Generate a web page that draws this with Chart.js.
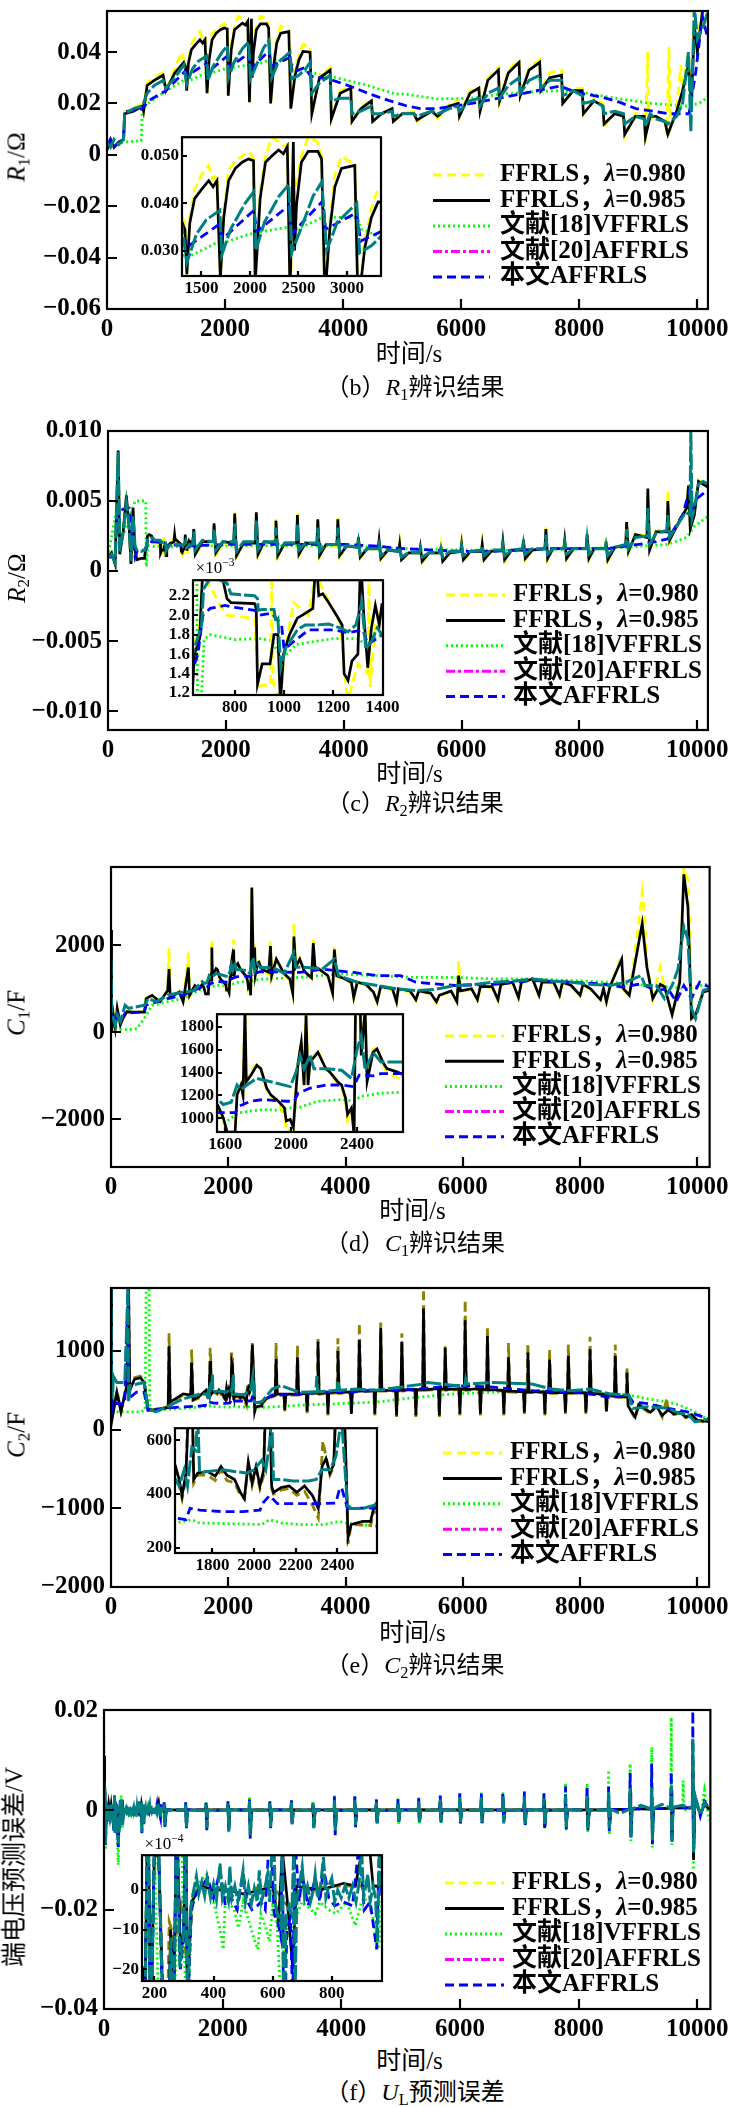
<!DOCTYPE html>
<html>
<head>
<meta charset="utf-8">
<script src="https://cdn.jsdelivr.net/npm/chart.js@4.4.0/dist/chart.umd.min.js"></script>
<style>
  body { margin: 0; background: #fff; }
  #page { position: relative; width: 735px; height: 2107px; overflow: hidden; background: #fff; }
  #page canvas { position: absolute; }
  .txt { position: absolute; white-space: nowrap; color: #000; line-height: 1;
         font-family: "Liberation Serif", "Noto Sans CJK SC", serif; transform: translate(-50%, -50%); }
  .ytl { transform: translate(-50%, -50%) rotate(-90deg); }
  .txt sub { font-size: 0.68em; vertical-align: -0.28em; line-height: 0; }
  .txt sup { font-size: 0.68em; vertical-align: 0.55em; line-height: 0; }
</style>
</head>
<body>
<div id="page"></div>
<script>
// ---------- ticks / labels ----------
const xTicksMain = [0, 2000, 4000, 6000, 8000, 10000];
const legendLabels = ['FFRLS，λ=0.980', 'FFRLS，λ=0.985', '文献[18]VFFRLS', '文献[20]AFFRLS', '本文AFFRLS'];

const r1YTicks = [-0.06, -0.04, -0.02, 0, 0.02, 0.04];
const r1InsetXTicks = [1500, 2000, 2500, 3000];
const r1InsetYTicks = [0.030, 0.040, 0.050];
const r2YTicks = [-0.010, -0.005, 0, 0.005, 0.010];
const r2InsetXTicks = [800, 1000, 1200, 1400];
const r2InsetYTicks = [0.0012, 0.0014, 0.0016, 0.0018, 0.0020, 0.0022];
const c1YTicks = [-2000, 0, 2000];
const c1InsetXTicks = [1600, 2000, 2400];
const c1InsetYTicks = [1000, 1200, 1400, 1600, 1800];
const c2YTicks = [-2000, -1000, 0, 1000];
const c2InsetXTicks = [1800, 2000, 2200, 2400];
const c2InsetYTicks = [200, 400, 600];
const ulYTicks = [-0.04, -0.02, 0, 0.02];
const ulInsetXTicks = [200, 400, 600, 800];
const ulInsetYTicks = [-0.002, -0.001, 0];

// ---------- (b) R1 ----------
const r1Yellow = [[0,0.002],[60,0.006],[120,0.003],[200,0.005],[280,0.006],[300,0.017],[450,0.018],[600,0.020],[620,0.017],[680,0.028],[800,0.030],[950,0.032],[1000,0.025],[1150,0.034],[1270,0.040],[1300,0.037],[1330,0.036],[1350,0.025],[1380,0.037],[1430,0.043],[1500,0.046],[1575,0.048],[1620,0.045],[1660,0.046],[1695,0.024],[1730,0.038],[1780,0.047],[1850,0.049],[1920,0.050],[1985,0.051],[2037,0.0495],[2054,0.023],[2105,0.043],[2160,0.050],[2225,0.054],[2294,0.053],[2345,0.052],[2385,0.0525],[2413,0.0205],[2447,0.040],[2480,0.045],[2530,0.050],[2600,0.054],[2700,0.053],[2738,0.050],[2772,0.020],[2823,0.036],[2875,0.046],[2943,0.050],[3012,0.049],[3080,0.0485],[3114,0.018],[3183,0.032],[3251,0.039],[3320,0.043],[3440,0.042],[3470,0.016],[3600,0.031],[3780,0.034],[3800,0.014],[3950,0.025],[4130,0.027],[4150,0.013],[4300,0.019],[4480,0.021],[4500,0.013],[4650,0.016],[4830,0.018],[4850,0.013],[5000,0.016],[5200,0.017],[5250,0.013],[5500,0.017],[5600,0.014],[5800,0.020],[5950,0.021],[5970,0.015],[6150,0.025],[6300,0.026],[6320,0.017],[6450,0.030],[6630,0.034],[6650,0.021],[6800,0.033],[6980,0.037],[7000,0.023],[7150,0.034],[7330,0.037],[7350,0.025],[7500,0.032],[7700,0.033],[7720,0.020],[7900,0.026],[8050,0.026],[8070,0.016],[8250,0.022],[8400,0.020],[8420,0.011],[8600,0.017],[8750,0.016],[8770,0.007],[8950,0.016],[9100,0.016],[9120,0.005],[9160,0.040],[9180,0.014],[9300,0.014],[9450,0.013],[9480,0.008],[9520,0.042],[9540,0.010],[9650,0.018],[9720,0.035],[9750,0.025],[9850,0.040],[9900,0.022],[9950,0.056],[10000,0.045],[10100,0.058],[10180,0.058]];
const r1Black = [[0,0.002],[60,0.006],[120,0.003],[200,0.005],[280,0.006],[300,0.016],[450,0.017],[600,0.019],[620,0.017],[680,0.027],[800,0.029],[950,0.031],[1000,0.025],[1150,0.032],[1300,0.036],[1330,0.0345],[1350,0.025],[1380,0.0358],[1430,0.041],[1500,0.0429],[1575,0.0448],[1620,0.0435],[1660,0.0448],[1695,0.024],[1730,0.037],[1780,0.0448],[1850,0.0474],[1920,0.0487],[1985,0.0494],[2037,0.049],[2054,0.023],[2105,0.041],[2160,0.0487],[2225,0.050],[2294,0.0513],[2345,0.0505],[2385,0.052],[2413,0.0205],[2447,0.053],[2460,0.030],[2480,0.0397],[2530,0.0487],[2600,0.051],[2700,0.051],[2738,0.0494],[2772,0.020],[2823,0.0345],[2875,0.0435],[2943,0.0474],[3012,0.0477],[3080,0.048],[3114,0.018],[3183,0.0306],[3251,0.037],[3320,0.0403],[3440,0.040],[3470,0.016],[3600,0.030],[3780,0.033],[3800,0.014],[3950,0.024],[4130,0.026],[4150,0.013],[4300,0.018],[4480,0.021],[4500,0.013],[4650,0.016],[4830,0.018],[4850,0.013],[5000,0.016],[5200,0.016],[5250,0.0135],[5500,0.017],[5600,0.015],[5800,0.019],[5950,0.020],[5970,0.015],[6150,0.024],[6300,0.026],[6320,0.017],[6450,0.029],[6630,0.033],[6650,0.021],[6800,0.032],[6980,0.036],[7000,0.023],[7150,0.033],[7330,0.036],[7350,0.025],[7500,0.030],[7700,0.031],[7720,0.020],[7900,0.025],[8050,0.025],[8070,0.016],[8250,0.021],[8400,0.019],[8420,0.012],[8600,0.016],[8750,0.015],[8770,0.008],[8950,0.015],[9100,0.015],[9120,0.007],[9200,0.015],[9300,0.015],[9450,0.013],[9500,0.008],[9650,0.017],[9750,0.025],[9850,0.035],[9900,0.020],[9950,0.050],[10000,0.040],[10100,0.058],[10180,0.058]];
const r1Green = [[0,0.005],[100,0.004],[300,0.005],[580,0.0055],[600,0.018],[700,0.020],[1000,0.025],[1300,0.029],[1350,0.0285],[1500,0.030],[1690,0.032],[1710,0.0315],[2000,0.0335],[2400,0.035],[2430,0.034],[2750,0.037],[3100,0.037],[3150,0.0345],[3450,0.032],[3780,0.0306],[4060,0.029],[4340,0.0275],[4890,0.0237],[5030,0.0237],[5590,0.0218],[6150,0.022],[6715,0.0237],[7280,0.0247],[7670,0.025],[8120,0.024],[8680,0.0218],[9240,0.020],[9800,0.019],[10030,0.020],[10180,0.0225]];
const r1Teal = [[0,0.005],[60,0.003],[120,0.006],[200,0.004],[280,0.006],[300,0.016],[450,0.018],[600,0.019],[680,0.024],[800,0.027],[950,0.029],[1000,0.026],[1150,0.030],[1300,0.035],[1350,0.0275],[1450,0.0335],[1550,0.0365],[1690,0.0385],[1710,0.029],[1800,0.0345],[1950,0.040],[2040,0.0425],[2060,0.030],[2150,0.036],[2300,0.0415],[2400,0.044],[2430,0.0295],[2550,0.036],[2650,0.0415],[2740,0.0445],[2790,0.030],[2900,0.036],[3050,0.039],[3100,0.040],[3130,0.0295],[3250,0.031],[3350,0.033],[3440,0.036],[3470,0.024],[3600,0.028],[3780,0.031],[3800,0.021],[3950,0.022],[4130,0.022],[4150,0.016],[4300,0.017],[4480,0.019],[4500,0.016],[4650,0.016],[4830,0.017],[4850,0.015],[5000,0.016],[5200,0.016],[5250,0.015],[5500,0.017],[5600,0.016],[5800,0.018],[5950,0.019],[5970,0.017],[6150,0.021],[6300,0.022],[6320,0.019],[6450,0.024],[6630,0.026],[6650,0.022],[6800,0.027],[6980,0.030],[7000,0.024],[7150,0.029],[7330,0.031],[7350,0.026],[7500,0.029],[7700,0.029],[7720,0.023],[7900,0.025],[8050,0.023],[8070,0.020],[8250,0.021],[8400,0.019],[8420,0.016],[8600,0.017],[8750,0.016],[8770,0.012],[8950,0.015],[9100,0.014],[9120,0.011],[9200,0.016],[9300,0.014],[9450,0.013],[9500,0.012],[9650,0.015],[9750,0.020],[9850,0.040],[9890,0.009],[9950,0.058],[10000,0.045],[10100,0.050],[10180,0.056]];
const r1Blue = [[0,0.004],[60,0.006],[120,0.003],[200,0.005],[280,0.006],[300,0.0167],[600,0.018],[700,0.021],[1000,0.025],[1320,0.0325],[1370,0.031],[1680,0.0355],[1720,0.0325],[2040,0.0385],[2070,0.034],[2400,0.0395],[2430,0.0335],[2750,0.0405],[2780,0.0345],[3100,0.038],[3140,0.032],[3350,0.034],[3450,0.0306],[3780,0.0294],[4110,0.0268],[4450,0.0237],[4780,0.0211],[5060,0.0192],[5310,0.018],[5590,0.018],[6150,0.0199],[6715,0.0224],[7280,0.025],[7670,0.0268],[7950,0.0243],[8400,0.0224],[8680,0.0205],[8960,0.018],[9520,0.016],[9860,0.016],[9975,0.0325],[10085,0.054],[10180,0.045]];

// ---------- (c) R2 ----------
const r2Yellow = [[0,0.0010],[60,0.0014],[120,0.0006],[173,0.0080],[200,0.0013],[260,0.0030],[312,0.0050],[360,0.0031],[390,0.0006],[425,0.0042],[458,0.0016],[490,0.0009],[560,0.0009],[620,0.0010],[636,0.0017],[657,0.0019],[670,0.0024],[700,0.0023],[740,0.0021],[768,0.0020],[880,0.00197],[895,0.00126],[911,0.00128],[945,0.00128],[950,0.0024],[956,0.0013],[985,0.0011],[1000,0.0016],[1040,0.00213],[1100,0.0020],[1130,0.0025],[1150,0.0023],[1181,0.00215],[1230,0.0019],[1250,0.00126],[1262,0.00115],[1300,0.0015],[1340,0.0014],[1345,0.0024],[1350,0.00126],[1371,0.0019],[1400,0.0021],[1440,0.0020],[1455,0.0029],[1480,0.0011],[1600,0.0020],[1785,0.0020],[1800,0.0033],[1830,0.0012],[1950,0.0020],[2135,0.0019],[2150,0.0042],[2180,0.0010],[2300,0.0019],[2500,0.0020],[2517,0.0040],[2545,0.0011],[2650,0.0021],[2835,0.0020],[2850,0.0037],[2880,0.0010],[3000,0.0020],[3200,0.0020],[3214,0.0041],[3240,0.0011],[3350,0.0020],[3545,0.0019],[3560,0.0036],[3590,0.0010],[3700,0.0019],[3885,0.0018],[3900,0.0038],[3930,0.0010],[4050,0.0018],[4235,0.0017],[4250,0.0025],[4280,0.0009],[4400,0.0016],[4585,0.0015],[4600,0.0023],[4630,0.0008],[4750,0.0015],[4935,0.0014],[4950,0.0020],[4980,0.0007],[5100,0.0013],[5285,0.0013],[5300,0.0018],[5330,0.0006],[5450,0.0013],[5635,0.0013],[5650,0.0018],[5680,0.0007],[5800,0.0013],[5985,0.0014],[6000,0.0020],[6030,0.0007],[6150,0.0014],[6335,0.0014],[6350,0.0020],[6380,0.0008],[6500,0.0014],[6685,0.0015],[6700,0.0022],[6730,0.0007],[6850,0.0015],[7035,0.0015],[7050,0.0023],[7080,0.0008],[7200,0.0015],[7415,0.0016],[7430,0.0031],[7460,0.0008],[7550,0.0016],[7735,0.0016],[7750,0.0023],[7780,0.0008],[7900,0.0016],[8115,0.0016],[8130,0.0027],[8160,0.0008],[8250,0.0016],[8435,0.0016],[8450,0.0022],[8480,0.0007],[8600,0.0017],[8785,0.0018],[8800,0.0036],[8830,0.0013],[8950,0.0027],[9145,0.0025],[9160,0.0056],[9190,0.0014],[9300,0.0029],[9485,0.0029],[9500,0.0057],[9530,0.0021],[9650,0.0033],[9820,0.0046],[9850,0.0060],[9880,0.0031],[9950,0.0041],[10020,0.0065],[10100,0.0063],[10180,0.0061]];
const r2Black = [[0,0.0010],[60,0.0013],[120,0.0005],[173,0.0086],[200,0.0012],[260,0.0029],[312,0.0054],[360,0.0030],[390,0.0005],[425,0.0045],[458,0.0015],[490,0.0008],[560,0.0009],[620,0.0009],[636,0.0016],[657,0.00176],[670,0.0025],[700,0.0026],[740,0.0025],[768,0.00217],[784,0.00213],[880,0.00212],[887,0.00207],[892,0.00129],[911,0.0015],[943,0.0015],[959,0.0018],[975,0.0018],[985,0.0011],[998,0.0016],[1022,0.0018],[1054,0.00197],[1086,0.00202],[1117,0.00207],[1130,0.0026],[1141,0.0022],[1157,0.00222],[1181,0.00213],[1213,0.0020],[1236,0.0019],[1244,0.0014],[1260,0.00133],[1276,0.00153],[1300,0.0016],[1311,0.0026],[1324,0.0020],[1340,0.00146],[1355,0.00187],[1371,0.0021],[1387,0.0019],[1397,0.0021],[1440,0.0020],[1455,0.0030],[1480,0.0012],[1600,0.0021],[1785,0.0021],[1800,0.0034],[1830,0.0013],[1950,0.0021],[2135,0.0020],[2150,0.0041],[2180,0.0011],[2300,0.0020],[2500,0.0020],[2517,0.0042],[2545,0.0012],[2650,0.0021],[2835,0.0020],[2850,0.0036],[2880,0.0011],[3000,0.0020],[3200,0.0020],[3214,0.0040],[3240,0.0012],[3350,0.0020],[3545,0.0019],[3560,0.0037],[3590,0.0011],[3700,0.0019],[3885,0.0019],[3900,0.0037],[3930,0.0011],[4050,0.0018],[4235,0.0017],[4250,0.0024],[4280,0.0010],[4400,0.0016],[4585,0.0016],[4600,0.0022],[4630,0.0009],[4750,0.0015],[4935,0.0014],[4950,0.0019],[4980,0.0008],[5100,0.0013],[5285,0.0013],[5300,0.0017],[5330,0.0007],[5450,0.0013],[5635,0.0013],[5650,0.0017],[5680,0.0007],[5800,0.0013],[5985,0.0014],[6000,0.0019],[6030,0.0008],[6150,0.0014],[6335,0.0014],[6350,0.0019],[6380,0.0008],[6500,0.0014],[6685,0.0015],[6700,0.0021],[6730,0.0008],[6850,0.0015],[7035,0.0015],[7050,0.0022],[7080,0.0009],[7200,0.0015],[7415,0.0016],[7430,0.0030],[7460,0.0009],[7550,0.0016],[7735,0.0016],[7750,0.0022],[7780,0.0009],[7900,0.0016],[8115,0.0016],[8130,0.0026],[8160,0.0009],[8250,0.0016],[8435,0.0016],[8450,0.0021],[8480,0.0008],[8600,0.0017],[8785,0.0018],[8800,0.0035],[8830,0.0014],[8950,0.0026],[9145,0.0024],[9160,0.0059],[9190,0.0015],[9300,0.0028],[9485,0.0028],[9500,0.0050],[9530,0.0022],[9650,0.0032],[9820,0.0045],[9850,0.0061],[9880,0.0030],[9950,0.0040],[10020,0.0064],[10100,0.0062],[10180,0.0060]];
const r2Green = [[0,0.0010],[160,0.0048],[200,0.0020],[300,0.0030],[420,0.0045],[460,0.0050],[640,0.0050],[650,0.0003],[665,0.0012],[675,0.00175],[700,0.0018],[800,0.00175],[900,0.00176],[950,0.00174],[990,0.00155],[1050,0.0017],[1200,0.00176],[1300,0.00176],[1320,0.00172],[1400,0.0018],[2000,0.0018],[3000,0.0018],[4000,0.0018],[5000,0.0016],[6000,0.0015],[7000,0.0015],[8000,0.0016],[8800,0.0017],[9490,0.0019],[9820,0.0024],[9950,0.0032],[10180,0.0039]];
const r2Teal = [[0,0.0010],[60,0.0012],[120,0.0006],[173,0.0085],[200,0.0014],[260,0.0028],[312,0.0049],[360,0.0032],[390,0.0007],[425,0.0040],[458,0.0018],[490,0.0015],[560,0.0014],[620,0.0015],[636,0.00166],[665,0.0019],[673,0.00227],[705,0.0024],[768,0.00233],[784,0.00222],[880,0.0022],[892,0.00217],[895,0.00205],[911,0.00206],[959,0.00206],[967,0.00193],[975,0.00196],[987,0.00146],[1006,0.00166],[1054,0.00185],[1086,0.0019],[1133,0.0019],[1181,0.00191],[1228,0.00187],[1260,0.00183],[1292,0.0019],[1316,0.00213],[1332,0.00166],[1355,0.00173],[1379,0.00187],[1397,0.0018],[1440,0.0020],[1455,0.0028],[1480,0.0015],[1600,0.0022],[1785,0.0021],[1800,0.0030],[1830,0.0015],[1950,0.0021],[2135,0.0021],[2150,0.0034],[2180,0.0014],[2300,0.0021],[2500,0.0021],[2517,0.0036],[2545,0.0015],[2650,0.0021],[2835,0.0021],[2850,0.0031],[2880,0.0014],[3000,0.0020],[3200,0.0020],[3214,0.0034],[3240,0.0015],[3350,0.0020],[3545,0.0020],[3560,0.0031],[3590,0.0014],[3700,0.0019],[3885,0.0019],[3900,0.0031],[3930,0.0014],[4050,0.0018],[4235,0.0017],[4250,0.0021],[4280,0.0012],[4400,0.0016],[4585,0.0016],[4600,0.0019],[4630,0.0011],[4750,0.0015],[4935,0.0014],[4950,0.0017],[4980,0.0010],[5100,0.0013],[5285,0.0013],[5300,0.0016],[5330,0.0010],[5450,0.0013],[5635,0.0013],[5650,0.0016],[5680,0.0010],[5800,0.0014],[5985,0.0014],[6000,0.0018],[6030,0.0011],[6150,0.0014],[6335,0.0015],[6350,0.0018],[6380,0.0011],[6500,0.0015],[6685,0.0015],[6700,0.0019],[6730,0.0011],[6850,0.0015],[7035,0.0016],[7050,0.0020],[7080,0.0012],[7200,0.0016],[7415,0.0016],[7430,0.0026],[7460,0.0012],[7550,0.0016],[7735,0.0016],[7750,0.0020],[7780,0.0012],[7900,0.0016],[8115,0.0016],[8130,0.0023],[8160,0.0012],[8250,0.0016],[8435,0.0016],[8450,0.0019],[8480,0.0011],[8600,0.0017],[8785,0.0019],[8800,0.0030],[8830,0.0016],[8950,0.0024],[9145,0.0025],[9160,0.0045],[9190,0.0019],[9300,0.0027],[9485,0.0029],[9500,0.0040],[9530,0.0024],[9650,0.0032],[9800,0.0042],[9875,0.0040],[9890,0.0101],[9910,0.0038],[9950,0.0045],[10020,0.0062],[10100,0.0064],[10180,0.0062]];
const r2Blue = [[0,0.0010],[126,0.0010],[150,0.0038],[200,0.0043],[300,0.0045],[360,0.0045],[425,0.0021],[460,0.0010],[500,0.0015],[600,0.0015],[630,0.00145],[650,0.0016],[670,0.0020],[700,0.00207],[760,0.0021],[800,0.00208],[880,0.00205],[900,0.0020],[950,0.00202],[990,0.0019],[1000,0.00165],[1050,0.00175],[1100,0.00185],[1200,0.00185],[1260,0.00182],[1320,0.00185],[1340,0.0017],[1400,0.0018],[2000,0.0019],[3000,0.0019],[4000,0.0019],[4500,0.0018],[5000,0.0016],[5500,0.0015],[6000,0.0014],[6500,0.0014],[7000,0.0015],[7500,0.0016],[8000,0.0016],[8500,0.0016],[8800,0.0018],[9000,0.0019],[9300,0.0021],[9500,0.0023],[9620,0.0031],[9750,0.0040],[9890,0.0061],[9920,0.0045],[10000,0.0052],[10180,0.0058]];

// ---------- (d) C1 ----------
const c1Yellow = [[0,2350],[10,0],[40,420],[73,120],[106,560],[160,190],[205,330],[270,480],[370,470],[570,470],[600,790],[700,860],[834,690],[966,950],[990,1940],[1010,780],[1165,930],[1230,680],[1320,1830],[1340,830],[1430,1080],[1500,990],[1557,1080],[1588,980],[1612,860],[1660,870],[1672,1220],[1696,1300],[1708,1190],[1720,2100],[1728,1300],[1756,1420],[1792,1470],[1816,1430],[1852,1250],[1876,1190],[1923,1130],[1959,1040],[1971,890],[1995,900],[2014,880],[2031,1280],[2043,1500],[2062,1670],[2079,1280],[2091,2130],[2103,1280],[2115,1500],[2163,1590],[2211,1440],[2235,1400],[2283,1300],[2307,1270],[2331,1150],[2343,980],[2367,1050],[2383,940],[2402,3300],[2426,1560],[2450,2050],[2462,1340],[2498,1600],[2522,1620],[2558,1470],[2582,1400],[2642,1360],[2690,1330],[2720,2130],[2740,1280],[2820,1700],[2950,1330],[3050,1200],[3100,880],[3120,2500],[3150,1480],[3220,1700],[3300,1380],[3420,1230],[3450,2130],[3480,1480],[3550,1430],[3700,1280],[3780,880],[3810,1980],[3850,1280],[3950,1230],[4100,1130],[4140,780],[4200,1130],[4350,1080],[4475,900],[4540,680],[4600,1030],[4800,980],[4870,680],[4900,980],[5100,930],[5200,730],[5250,930],[5450,880],[5550,680],[5600,830],[5800,930],[5900,680],[5930,1640],[5960,930],[6150,980],[6250,730],[6300,1030],[6500,1030],[6600,730],[6650,1080],[6850,1130],[6950,780],[7000,1130],[7190,1210],[7300,830],[7350,1130],[7550,1130],[7650,830],[7700,1130],[7850,1060],[8000,830],[8050,1080],[8180,980],[8350,730],[8400,980],[8450,680],[8510,1030],[8710,1750],[8740,980],[8840,830],[9000,2500],[9060,3220],[9100,2700],[9140,1600],[9240,760],[9370,1500],[9440,1050],[9570,380],[9700,1200],[9770,3780],[9840,3500],[9880,2000],[9900,300],[9970,380],[10100,900],[10200,940]];
const c1Black = [[0,2350],[10,0],[40,400],[73,100],[106,550],[160,170],[205,320],[270,470],[370,460],[570,460],[600,775],[700,850],[834,700],[966,960],[990,1450],[1010,800],[1165,925],[1230,700],[1320,1490],[1340,850],[1430,1075],[1500,1000],[1557,1106],[1588,1006],[1612,880],[1660,880],[1672,1206],[1696,1291],[1708,1200],[1720,1950],[1728,1320],[1756,1377],[1792,1463],[1816,1434],[1852,1263],[1876,1206],[1923,1149],[1959,1091],[1971,977],[1995,990],[2014,920],[2031,1263],[2043,1491],[2062,1663],[2079,1291],[2091,1900],[2103,1291],[2115,1491],[2163,1577],[2211,1434],[2235,1406],[2283,1320],[2307,1291],[2331,1177],[2343,1034],[2367,1091],[2383,850],[2402,3330],[2426,1549],[2450,1950],[2462,1320],[2498,1577],[2522,1606],[2558,1491],[2582,1434],[2642,1406],[2690,1377],[2720,1980],[2740,1300],[2820,1680],[2950,1350],[3050,1225],[3100,900],[3120,2200],[3150,1500],[3220,1680],[3300,1400],[3420,1250],[3450,2050],[3480,1500],[3550,1450],[3700,1300],[3780,900],[3810,1900],[3850,1300],[3950,1250],[4100,1150],[4140,800],[4200,1150],[4350,1100],[4475,925],[4540,700],[4600,1050],[4800,1000],[4870,700],[4900,1000],[5100,950],[5200,750],[5250,950],[5450,900],[5550,700],[5600,850],[5800,950],[5900,700],[5930,1300],[5960,950],[6150,1000],[6250,750],[6300,1050],[6500,1050],[6600,750],[6650,1100],[6850,1150],[6950,800],[7000,1150],[7190,1225],[7300,850],[7350,1150],[7550,1150],[7650,850],[7700,1150],[7850,1075],[8000,850],[8050,1100],[8180,1000],[8350,750],[8400,1000],[8450,700],[8510,1050],[8710,1680],[8740,1000],[8840,850],[9000,2050],[9060,2500],[9140,1500],[9240,775],[9370,1100],[9440,1050],[9570,400],[9700,1150],[9770,3630],[9840,2880],[9900,320],[9970,400],[10100,925],[10200,960]];
const c1Green = [[0,1680],[10,170],[170,60],[300,60],[440,80],[570,320],[700,620],[966,700],[1230,775],[1557,1006],[1612,977],[1684,1049],[1828,1077],[1923,1070],[1995,1091],[2043,1091],[2163,1149],[2307,1163],[2379,1150],[2426,1192],[2546,1220],[2690,1228],[3220,1260],[3880,1340],[4540,1300],[5200,1260],[5865,1260],[6530,1225],[7190,1225],[7850,1190],[8510,1150],[9170,1075],[9500,1040],[9840,1000],[10170,1110]];
const c1Teal = [[0,1680],[10,500],[40,300],[73,150],[106,400],[160,250],[240,620],[300,550],[570,620],[635,775],[770,700],[966,850],[1230,925],[1400,950],[1557,1163],[1588,1120],[1636,1140],[1672,1291],[1696,1250],[1732,1291],[1792,1349],[1876,1320],[1995,1277],[2031,1406],[2055,1549],[2079,1434],[2115,1549],[2139,1434],[2211,1434],[2307,1420],[2367,1349],[2402,1606],[2426,1720],[2450,1420],[2498,1577],[2546,1491],[2618,1491],[2690,1491],[2820,1450],[2950,1350],[3120,1830],[3150,1500],[3350,1490],[3600,1450],[3810,1680],[3880,1300],[4200,1150],[4540,1075],[4870,1000],[5200,960],[5500,980],[5865,1075],[6200,1100],[6530,1150],[6900,1180],[7190,1225],[7500,1180],[7850,1150],[8200,1100],[8510,1075],[8780,1150],[9040,1300],[9110,1075],[9300,1075],[9440,775],[9570,1075],[9670,1450],[9770,2430],[9840,2130],[9900,550],[9970,320],[10100,960],[10200,1000]];
const c1Blue = [[0,1075],[10,400],[40,350],[73,200],[106,400],[160,250],[240,435],[570,470],[600,620],[966,775],[1230,850],[1557,1049],[1660,1049],[1684,1106],[1756,1149],[1828,1163],[1971,1149],[2019,1149],[2043,1220],[2115,1263],[2211,1291],[2307,1291],[2379,1277],[2414,1377],[2498,1370],[2546,1391],[2690,1391],[3220,1375],[3615,1450],[4140,1375],[4540,1300],[4940,1300],[5200,1150],[5530,1110],[5865,1075],[6530,1100],[7190,1190],[7850,1150],[8380,1110],[8710,1040],[9040,1110],[9300,960],[9500,1000],[9640,700],[9770,1075],[9900,775],[10040,1150],[10200,1040]];

// ---------- (e) C2 ----------
const c2Yellow = [[0,1800],[10,620],[30,200],[100,500],[170,240],[270,580],[300,1800],[320,520],[400,660],[500,680],[565,620],[630,280],[700,250],[895,280],[975,290],[990,1225],[1010,340],[1230,440],[1360,430],[1375,1017],[1400,370],[1500,400],[1623,480],[1640,430],[1654,382],[1673,460],[1692,1040],[1701,900],[1710,440],[1729,470],[1776,470],[1813,450],[1841,490],[1869,450],[1906,442],[1934,395],[1953,382],[1972,505],[1990,430],[2009,490],[2028,420],[2046,470],[2059,980],[2074,900],[2084,420],[2093,400],[2130,415],[2168,420],[2205,395],[2242,410],[2280,358],[2308,310],[2330,598],[2345,540],[2364,470],[2382,500],[2410,1100],[2438,580],[2451,214],[2466,286],[2522,284],[2559,282],[2574,330],[2588,335],[2650,390],[2800,430],[2815,1100],[2835,440],[2950,440],[2965,230],[2980,440],[3165,440],[3180,1070],[3200,440],[3330,450],[3345,210],[3360,450],[3515,460],[3530,1150],[3550,450],[3685,460],[3700,180],[3715,460],[3855,470],[3870,1160],[3890,460],[4085,470],[4100,180],[4115,470],[4220,480],[4235,1360],[4260,480],[4485,490],[4500,180],[4515,490],[4585,490],[4600,1360],[4620,490],[4855,490],[4870,160],[4885,490],[4945,495],[4960,1225],[4980,490],[5185,500],[5200,160],[5215,500],[5315,500],[5330,1790],[5350,500],[5585,510],[5600,160],[5615,510],[5685,505],[5700,1060],[5720,500],[5935,510],[5950,180],[5965,510],[6025,505],[6040,1650],[6060,500],[6285,510],[6300,180],[6315,505],[6405,500],[6420,1310],[6440,500],[6685,490],[6700,180],[6715,485],[6765,480],[6780,1100],[6800,480],[7035,470],[7050,200],[7065,470],[7095,470],[7110,1100],[7130,470],[7385,470],[7400,180],[7415,465],[7465,460],[7480,1017],[7500,460],[7735,460],[7750,200],[7765,460],[7785,460],[7800,1080],[7820,460],[8085,460],[8100,200],[8115,455],[8155,450],[8170,1180],[8190,450],[8435,440],[8450,210],[8465,430],[8585,420],[8600,1080],[8620,410],[8785,410],[8800,800],[8820,290],[8940,140],[9000,310],[9200,200],[9300,300],[9400,160],[9480,400],[9500,240],[9600,190],[9700,210],[9800,150],[9900,180],[10000,110],[10200,90]];
const c2Black = [[0,1800],[10,600],[30,180],[100,475],[170,225],[270,560],[300,1800],[320,500],[400,640],[500,660],[565,600],[630,270],[700,245],[895,270],[975,280],[990,1060],[1010,350],[1230,455],[1360,440],[1375,850],[1400,380],[1500,420],[1623,502],[1640,454],[1654,394],[1673,478],[1692,870],[1701,800],[1710,454],[1729,478],[1776,484],[1813,466],[1841,502],[1869,470],[1906,454],[1934,406],[1953,382],[1972,520],[1990,442],[2009,502],[2028,430],[2046,490],[2059,850],[2074,800],[2084,430],[2093,406],[2130,424],[2168,430],[2205,406],[2242,430],[2280,394],[2308,346],[2326,502],[2345,532],[2364,478],[2382,510],[2410,1080],[2438,600],[2451,238],[2466,286],[2522,298],[2559,298],[2574,346],[2588,346],[2650,400],[2800,440],[2815,900],[2835,450],[2950,450],[2965,250],[2980,450],[3165,450],[3180,920],[3200,450],[3330,460],[3345,230],[3360,460],[3515,470],[3530,1120],[3550,460],[3685,470],[3700,200],[3715,470],[3855,480],[3870,1000],[3890,470],[4085,480],[4100,200],[4115,480],[4220,490],[4235,1140],[4260,490],[4485,500],[4500,200],[4515,500],[4585,500],[4600,1290],[4620,500],[4855,500],[4870,180],[4885,500],[4945,505],[4960,1120],[4980,500],[5185,510],[5200,180],[5215,510],[5315,510],[5330,1540],[5350,510],[5585,520],[5600,180],[5615,520],[5685,515],[5700,1040],[5720,510],[5935,520],[5950,200],[5965,520],[6025,515],[6040,1390],[6060,510],[6285,520],[6300,200],[6315,515],[6405,510],[6420,1190],[6440,510],[6685,500],[6700,200],[6715,495],[6765,490],[6780,920],[6800,490],[7035,480],[7050,220],[7065,480],[7095,480],[7110,980],[7130,480],[7385,480],[7400,200],[7415,475],[7465,470],[7480,890],[7500,470],[7735,470],[7750,220],[7765,470],[7785,470],[7800,940],[7820,470],[8085,470],[8100,220],[8115,465],[8155,460],[8170,1020],[8190,460],[8435,450],[8450,230],[8465,440],[8585,430],[8600,940],[8620,420],[8785,420],[8800,725],[8820,300],[8940,160],[9000,320],[9200,220],[9300,300],[9400,180],[9500,250],[9600,200],[9700,220],[9800,160],[9900,190],[10000,120],[10200,100]];
const c2Green = [[0,500],[40,225],[500,225],[580,250],[600,1800],[650,1800],[660,250],[700,245],[1230,270],[1623,292],[1701,304],[1738,292],[1850,290],[2037,286],[2074,304],[2130,292],[2224,286],[2336,286],[2410,298],[2448,290],[2578,280],[3210,310],[3870,330],[4530,350],[5200,410],[5860,455],[6520,475],[7180,495],[7840,475],[8500,455],[8830,440],[9160,390],[9500,350],[9700,310],[9960,225],[10200,120]];
const c2Teal = [[0,1800],[10,390],[25,725],[30,475],[40,680],[100,600],[235,600],[290,1800],[300,350],[330,560],[565,600],[630,270],[765,225],[895,270],[1230,390],[1500,450],[1623,454],[1640,430],[1664,490],[1680,430],[1701,574],[1720,562],[1729,700],[1738,478],[1776,484],[1850,490],[1906,484],[1962,478],[2000,490],[2037,526],[2056,490],[2074,586],[2084,700],[2093,454],[2130,454],[2186,448],[2261,448],[2298,454],[2326,490],[2364,490],[2392,538],[2420,680],[2448,358],[2466,346],[2522,346],[2578,358],[2750,515],[2900,560],[3210,475],[3495,480],[3510,680],[3530,480],[3855,500],[3870,620],[3900,500],[4200,515],[4530,500],[4930,540],[5330,580],[5400,600],[5860,560],[6035,560],[6050,640],[6070,580],[6520,600],[7180,580],[7510,515],[7840,495],[8170,515],[8500,455],[8830,440],[8900,270],[9160,290],[9500,270],[9700,205],[9830,205],[9960,100],[10200,140]];
const c2Blue = [[0,1100],[10,200],[40,350],[100,330],[235,330],[290,1800],[310,400],[435,475],[565,475],[630,245],[895,270],[1230,290],[1500,300],[1623,310],[1673,304],[1692,346],[1738,340],[1850,334],[1944,334],[2028,340],[2046,370],[2074,394],[2112,364],[2224,364],[2317,364],[2392,366],[2410,418],[2420,424],[2448,346],[2485,346],[2578,348],[2750,440],[3210,450],[3610,480],[3870,475],[4530,495],[5200,515],[5860,560],[6520,540],[7180,495],[7840,475],[8170,455],[8500,410],[8830,430],[8900,350],[9160,330],[9500,270],[9830,225],[10200,140]];

// ---------- (f) UL error ----------
const ulYellow = [[0,0.0105],[8,-0.003],[15,0.004],[25,-0.006],[40,0.0012],[60,-0.0018],[80,0.0009],[100,-0.0009],[120,0.001],[140,-0.0014],[160,-0.002],[167,-0.003],[178,0.002],[187,-0.003],[200,0.001],[215,0.0006],[240,-0.005],[250,-0.0008],[270,-0.0013],[290,-0.0004],[300,-0.001],[312,-0.0022],[330,-0.0001],[360,0.0001],[400,0.0000],[440,0.0001],[500,-0.0001],[560,0.0001],[590,0.0002],[620,-0.0001],[650,-0.0004],[700,0.0000],[800,0.0001],[900,0.0001],[969,0.0001],[1006,0.0001],[1014,0.0010],[1026,-0.0026],[1050,0.0001],[1369,0.0001],[1377,0.0010],[1389,-0.0029],[1410,0.0001],[1712,0.0001],[1720,0.0010],[1732,-0.0031],[1750,0.0001],[2082,0.0001],[2090,0.0011],[2102,-0.0036],[2120,0.0001],[2445,0.0001],[2453,0.0016],[2465,-0.0041],[2490,0.0001],[2788,0.0001],[2796,0.0011],[2808,-0.0029],[2830,0.0001],[3151,0.0001],[3159,0.0014],[3171,-0.0025],[3190,0.0001],[3514,0.0001],[3522,0.0011],[3534,-0.0031],[3560,0.0001],[3877,0.0001],[3885,0.0016],[3897,-0.0034],[3920,0.0001],[4220,0.0001],[4228,0.0016],[4240,-0.0026],[4260,0.0001],[4583,0.0001],[4591,0.0013],[4603,-0.0023],[4620,0.0001],[4946,0.0001],[4954,0.0013],[4966,-0.0022],[4990,0.0001],[5296,0.0001],[5304,0.0015],[5316,-0.0022],[5340,0.0001],[5659,0.0001],[5667,0.0018],[5679,-0.0020],[5700,0.0001],[5989,0.0001],[5997,0.0021],[6009,-0.0021],[6030,0.0001],[6352,0.0001],[6360,0.0021],[6372,-0.0021],[6390,0.0001],[6715,0.0001],[6723,0.0023],[6735,-0.0022],[6760,0.0001],[7078,0.0001],[7086,0.0023],[7098,-0.0025],[7120,0.0001],[7408,0.0001],[7416,0.0020],[7428,-0.0034],[7450,0.0001],[7771,0.0001],[7779,0.0025],[7791,-0.0030],[7810,0.0001],[8134,0.0001],[8142,0.0027],[8154,-0.0032],[8180,0.0001],[8497,0.0001],[8505,0.0029],[8517,-0.0033],[8540,0.0002],[8860,0.0002],[8868,0.0037],[8880,-0.0046],[8900,0.0003],[9223,0.0003],[9231,0.0037],[9243,-0.0051],[9260,0.0004],[9553,0.0004],[9561,0.0041],[9573,-0.0053],[9590,0.0005],[9916,0.0005],[9924,0.0098],[9936,-0.0098],[9960,0.0025],[10050,-0.0008],[10120,0.0012],[10200,0.0002]];
const ulBlack = [[0,0.011],[8,-0.003],[15,0.004],[25,-0.006],[40,0.0012],[60,-0.0018],[80,0.0009],[100,-0.0009],[120,0.001],[140,-0.0014],[160,-0.002],[167,-0.0035],[178,0.0025],[187,-0.0035],[200,0.001],[215,0.0008],[240,-0.006],[255,-0.001],[266,-0.0025],[275,0.0018],[288,-0.0015],[300,-0.0010],[306,0.002],[312,-0.0025],[325,-0.0003],[360,0.0001],[400,0.0000],[450,0.0000],[500,-0.0001],[560,0.0000],[600,0.0001],[620,-0.0008],[633,0.001],[650,-0.0003],[668,-0.002],[680,0.0001],[760,0.0000],[840,0.00017],[880,0.0001],[920,0.0017],[940,0.0001],[969,0.0001],[1006,0.0001],[1014,0.0009],[1026,-0.0025],[1050,0.0001],[1369,0.0001],[1377,0.0009],[1389,-0.0028],[1410,0.0001],[1712,0.0001],[1720,0.0009],[1732,-0.0030],[1750,0.0001],[2082,0.0001],[2090,0.0010],[2102,-0.0035],[2120,0.0001],[2445,0.0001],[2453,0.0015],[2465,-0.0040],[2490,0.0001],[2788,0.0001],[2796,0.0010],[2808,-0.0028],[2830,0.0001],[3151,0.0001],[3159,0.0013],[3171,-0.0024],[3190,0.0001],[3514,0.0001],[3522,0.0010],[3534,-0.0030],[3560,0.0001],[3877,0.0001],[3885,0.0015],[3897,-0.0033],[3920,0.0001],[4220,0.0001],[4228,0.0015],[4240,-0.0025],[4260,0.0001],[4583,0.0001],[4591,0.0012],[4603,-0.0022],[4620,0.0001],[4946,0.0001],[4954,0.0012],[4966,-0.0021],[4990,0.0001],[5296,0.0001],[5304,0.0014],[5316,-0.0021],[5340,0.0001],[5659,0.0001],[5667,0.0017],[5679,-0.0019],[5700,0.0001],[5989,0.0001],[5997,0.0020],[6009,-0.0020],[6030,0.0001],[6352,0.0001],[6360,0.0020],[6372,-0.0020],[6390,0.0001],[6715,0.0001],[6723,0.0022],[6735,-0.0021],[6760,0.0001],[7078,0.0001],[7086,0.0022],[7098,-0.0024],[7120,0.0001],[7408,0.0001],[7416,0.0019],[7428,-0.0035],[7450,0.0001],[7771,0.0001],[7779,0.0024],[7791,-0.0029],[7810,0.0001],[8134,0.0001],[8142,0.0026],[8154,-0.0031],[8180,0.0001],[8497,0.0001],[8505,0.0028],[8517,-0.0032],[8540,0.0002],[8860,0.0002],[8868,0.0036],[8880,-0.0045],[8900,0.0003],[9223,0.0003],[9231,0.0036],[9243,-0.0050],[9260,0.0004],[9553,0.0004],[9561,0.0040],[9573,-0.0052],[9590,0.0005],[9916,0.0005],[9924,0.0100],[9936,-0.0100],[9960,0.0025],[10050,-0.0008],[10120,0.0012],[10200,0.0002]];
const ulGreen = [[0,0.015],[8,-0.003],[15,0.005],[25,-0.008],[40,0.002],[60,-0.002],[80,0.0012],[100,-0.0012],[120,0.0014],[140,-0.0016],[160,-0.003],[167,-0.004],[178,0.003],[190,-0.004],[200,0.0012],[240,-0.011],[255,-0.0015],[270,-0.0023],[288,0.003],[300,-0.0015],[312,-0.0035],[325,-0.0006],[340,0.0001],[378,0.0004],[400,-0.0003],[422,-0.0010],[433,-0.0015],[440,-0.0002],[470,-0.0005],[484,-0.00096],[500,-0.0003],[520,-0.0008],[540,-0.0013],[550,-0.0015],[560,-0.0006],[575,-0.0009],[589,-0.0013],[600,-0.0004],[615,-0.0009],[622,-0.00196],[630,-0.0035],[642,-0.0007],[655,-0.0012],[668,-0.0010],[682,-0.0006],[700,-0.0003],[730,-0.0005],[744,-0.0006],[760,-0.0003],[790,-0.0005],[814,-0.0006],[850,-0.0003],[880,-0.0009],[900,-0.0003],[910,-0.0002],[930,-0.0004],[946,-0.0009],[955,-0.0015],[960,-0.0014],[969,-0.0003],[1006,0.0000],[1014,0.0014],[1026,-0.0034],[1050,0.0000],[1369,0.0000],[1377,0.0015],[1389,-0.0036],[1410,0.0000],[1712,0.0000],[1720,0.0016],[1732,-0.0038],[1750,0.0000],[2082,0.0000],[2090,0.0017],[2102,-0.0044],[2120,0.0000],[2445,0.0000],[2453,0.0026],[2465,-0.0052],[2490,0.0000],[2788,0.0000],[2796,0.0017],[2808,-0.0035],[2830,0.0000],[3151,0.0000],[3159,0.0021],[3171,-0.0030],[3190,0.0000],[3514,0.0000],[3522,0.0017],[3534,-0.0037],[3560,0.0000],[3877,0.0000],[3885,0.0030],[3897,-0.0046],[3920,0.0000],[4220,0.0000],[4228,0.0030],[4240,-0.0033],[4260,0.0000],[4583,0.0000],[4591,0.0024],[4603,-0.0029],[4620,0.0000],[4946,0.0000],[4954,0.0024],[4966,-0.0027],[4990,0.0000],[5296,0.0000],[5304,0.0026],[5316,-0.0026],[5340,0.0000],[5659,0.0000],[5667,0.0032],[5679,-0.0025],[5700,0.0000],[5989,0.0000],[5997,0.0036],[6009,-0.0027],[6030,0.0000],[6352,0.0000],[6360,0.0036],[6372,-0.0027],[6390,0.0000],[6715,0.0000],[6723,0.0038],[6735,-0.0027],[6760,0.0000],[7078,0.0000],[7086,0.0040],[7098,-0.0031],[7120,0.0000],[7408,0.0000],[7416,0.0036],[7428,-0.0036],[7450,0.0000],[7771,0.0000],[7779,0.0055],[7791,-0.0040],[7810,0.0000],[8134,0.0000],[8142,0.0055],[8154,-0.0045],[8180,0.0000],[8497,0.0001],[8505,0.0081],[8517,-0.0050],[8540,0.0002],[8860,0.0002],[8868,0.0094],[8880,-0.0062],[8900,0.0003],[9223,0.0003],[9231,0.0127],[9243,-0.0075],[9260,0.0004],[9553,0.0004],[9561,0.0187],[9573,-0.0070],[9590,0.0006],[9752,0.0005],[9760,0.0060],[9780,0.0000],[9916,0.0005],[9924,0.0134],[9936,-0.0120],[9960,0.0030],[10050,-0.0012],[10120,0.0040],[10200,-0.0020]];
const ulTeal = [[0,0.0058],[8,-0.004],[15,0.0045],[25,-0.0067],[40,0.0015],[60,-0.002],[80,0.001],[100,-0.001],[120,0.0012],[140,-0.0015],[160,-0.0025],[167,-0.004],[178,0.003],[187,-0.0045],[200,0.0012],[215,0.0009],[240,-0.0067],[255,-0.0012],[266,-0.003],[275,0.002],[286,-0.00196],[299,-0.0011],[306,0.0022],[312,-0.003],[323,-0.00046],[333,0.0000],[342,0.00035],[350,-0.0001],[360,0.0002],[370,-0.00015],[378,0.0003],[390,-0.0002],[400,0.00015],[410,-0.00025],[422,0.00067],[430,-0.0002],[440,0.0001],[450,-0.00025],[455,0.0006],[462,-0.0002],[472,0.0001],[482,-0.0003],[492,0.0001],[500,0.0005],[508,-0.0003],[518,0.0001],[528,-0.00035],[538,0.00005],[548,-0.0003],[555,0.0005],[562,-0.0003],[572,0.0000],[583,0.0004],[590,-0.0003],[602,0.0018],[610,-0.0004],[620,-0.0007],[628,-0.0009],[633,0.0016],[638,-0.0044],[645,-0.0007],[655,-0.0004],[665,-0.0006],[672,0.0012],[676,-0.0026],[682,-0.0002],[690,0.0001],[700,0.0006],[708,-0.0002],[718,0.0001],[728,-0.0003],[738,0.0000],[744,0.0004],[752,-0.0002],[762,0.0001],[772,0.00083],[780,-0.0002],[790,0.0001],[800,0.0003],[810,-0.0003],[820,0.0000],[832,-0.0002],[845,0.0001],[858,-0.0002],[870,0.0001],[882,-0.0003],[893,0.0002],[900,0.0012],[908,-0.0002],[915,0.0001],[922,0.0004],[930,-0.0003],[940,0.0001],[948,-0.0002],[955,-0.0013],[961,0.001],[969,0.0001],[1006,0.0001],[1014,0.0012],[1026,-0.0030],[1050,0.0001],[1369,0.0000],[1377,0.0012],[1389,-0.0034],[1410,0.0001],[1712,-0.0001],[1720,0.0012],[1732,-0.0036],[1750,0.0000],[2082,0.0000],[2090,0.0013],[2102,-0.0042],[2120,0.0001],[2445,0.0000],[2453,0.0020],[2465,-0.0050],[2490,0.0000],[2788,0.0000],[2796,0.0014],[2808,-0.0034],[2830,0.0001],[3151,0.0000],[3159,0.0018],[3171,-0.0028],[3190,0.0000],[3514,0.0000],[3522,0.0014],[3534,-0.0036],[3560,0.0001],[3877,0.0000],[3885,0.0020],[3897,-0.0040],[3920,0.0000],[4220,0.0000],[4228,0.0020],[4240,-0.0030],[4260,0.0001],[4583,0.0000],[4591,0.0016],[4603,-0.0026],[4620,0.0000],[4946,0.0000],[4954,0.0016],[4966,-0.0024],[4990,0.0001],[5296,0.0000],[5304,0.0018],[5316,-0.0024],[5340,0.0000],[5659,0.0000],[5667,0.0022],[5679,-0.0022],[5700,0.0001],[5989,0.0000],[5997,0.0026],[6009,-0.0024],[6030,0.0000],[6352,0.0000],[6360,0.0026],[6372,-0.0024],[6390,0.0001],[6715,0.0000],[6723,0.0028],[6735,-0.0024],[6760,0.0000],[7078,0.0000],[7086,0.0028],[7098,-0.0028],[7120,0.0001],[7408,0.0000],[7416,0.0024],[7428,-0.0030],[7450,0.0000],[7771,0.0000],[7779,0.0030],[7791,-0.0034],[7810,0.0001],[8134,0.0000],[8142,0.0032],[8154,-0.0036],[8180,0.0000],[8497,0.0001],[8505,0.0035],[8517,-0.0036],[8540,0.0002],[8700,-0.0006],[8860,0.0002],[8868,0.0045],[8880,-0.0054],[8900,0.0003],[9050,0.0010],[9223,0.0003],[9231,0.0045],[9243,-0.0060],[9260,0.0004],[9400,0.0012],[9553,0.0004],[9561,0.0050],[9573,-0.0062],[9590,0.0006],[9750,0.0010],[9916,0.0005],[9924,0.0144],[9936,-0.0085],[9960,0.0030],[10050,-0.0010],[10120,0.0015],[10200,0.0003]];
const ulBlue = [[0,0.005],[8,-0.005],[15,0.004],[25,-0.007],[40,0.001],[60,-0.0025],[80,0.0012],[100,-0.0012],[120,0.0013],[140,-0.0016],[160,-0.003],[167,-0.0045],[178,0.003],[187,-0.0045],[200,0.0013],[215,0.0009],[240,-0.0074],[255,-0.0013],[266,-0.003],[275,0.0022],[288,-0.002],[299,-0.0012],[306,0.0022],[312,-0.0032],[325,-0.0005],[340,-0.0001],[360,0.0001],[380,0.0003],[400,-0.0002],[422,0.0005],[440,-0.0004],[460,-0.0002],[480,-0.0005],[500,0.0004],[515,-0.0003],[530,-0.0005],[548,-0.0004],[560,-0.0003],[575,-0.0005],[592,0.0018],[605,-0.0006],[620,-0.0009],[628,-0.0012],[633,0.0016],[638,-0.0046],[648,-0.0010],[660,-0.0007],[668,-0.0028],[675,0.0013],[690,-0.0003],[700,0.0004],[720,-0.0004],[744,0.0003],[760,-0.0003],[772,0.0006],[790,-0.0002],[810,-0.0004],[840,-0.0003],[870,-0.0004],[893,0.0012],[910,-0.0005],[930,-0.0003],[952,-0.0015],[961,0.0012],[969,-0.0001],[1006,0.0000],[1014,0.0016],[1026,-0.0033],[1050,0.0001],[1369,0.0000],[1377,0.0016],[1389,-0.0036],[1410,0.0001],[1712,0.0000],[1720,0.0015],[1732,-0.0040],[1750,0.0000],[2082,0.0000],[2090,0.0018],[2102,-0.0045],[2120,0.0001],[2445,0.0000],[2453,0.0025],[2465,-0.0057],[2490,0.0000],[2788,0.0000],[2796,0.0018],[2808,-0.0036],[2830,0.0001],[3151,0.0000],[3159,0.0022],[3171,-0.0030],[3190,0.0000],[3514,0.0000],[3522,0.0018],[3534,-0.0038],[3560,0.0001],[3877,0.0000],[3885,0.0028],[3897,-0.0050],[3920,0.0000],[4220,0.0000],[4228,0.0028],[4240,-0.0034],[4260,0.0001],[4583,0.0000],[4591,0.0022],[4603,-0.0030],[4620,0.0000],[4946,0.0000],[4954,0.0022],[4966,-0.0028],[4990,0.0001],[5296,0.0000],[5304,0.0024],[5316,-0.0026],[5340,0.0000],[5659,0.0000],[5667,0.0030],[5679,-0.0024],[5700,0.0001],[5989,0.0000],[5997,0.0034],[6009,-0.0026],[6030,0.0000],[6352,0.0000],[6360,0.0034],[6372,-0.0026],[6390,0.0001],[6715,0.0000],[6723,0.0036],[6735,-0.0026],[6760,0.0000],[7078,0.0000],[7086,0.0038],[7098,-0.0030],[7120,0.0001],[7408,0.0000],[7416,0.0034],[7428,-0.0034],[7450,0.0000],[7771,0.0000],[7779,0.0048],[7791,-0.0038],[7810,0.0001],[8134,0.0000],[8142,0.0050],[8154,-0.0040],[8180,0.0000],[8497,0.0001],[8505,0.0048],[8517,-0.0042],[8540,0.0002],[8860,0.0002],[8868,0.0075],[8880,-0.0058],[8900,0.0003],[9223,0.0003],[9231,0.0094],[9243,-0.0068],[9260,0.0004],[9553,0.0004],[9561,0.0078],[9573,-0.0066],[9590,0.0006],[9916,0.0005],[9924,0.0200],[9936,-0.0080],[9960,0.0030],[10050,-0.0012],[10120,0.0018],[10200,0.0003]];

// ---------- drawing ----------
const FONT = '"Liberation Serif", "Noto Sans CJK SC", serif';
const page = document.getElementById('page');

const STY = {
  teal:    { color: '#008080', dash: [16, 3], w: 3 },
  blue:    { color: '#0000ff', dash: [9, 5], w: 2.8 },
  black:   { color: '#000000', dash: [], w: 2.7 },
  yellow:  { color: '#ffff00', dash: [9, 5], w: 2.8 },
  olive:   { color: '#8a8200', dash: [9, 5], w: 2.8 },
  green:   { color: '#00ff00', dash: [2, 3], w: 2.8 },
  magenta: { color: '#ff00ff', dash: [9, 3, 3, 3], w: 3 }
};
const keyStyles = [STY.yellow, STY.black, STY.green, STY.magenta, STY.blue];

const minus = s => String(s).replace('-', '−');

// frame + inward ticks
const framePlugin = {
  id: 'frame',
  beforeDraw(chart, args, o) {
    if (!o.fill) return;
    const a = chart.chartArea, ctx = chart.ctx;
    ctx.save();
    ctx.fillStyle = '#fff';
    ctx.fillRect(a.left, a.top, a.right - a.left, a.bottom - a.top);
    ctx.restore();
  },
  afterDatasetsDraw(chart, args, o) {
    const a = chart.chartArea, ctx = chart.ctx, sx = chart.scales.x, sy = chart.scales.y;
    ctx.save();
    ctx.strokeStyle = '#000';
    ctx.lineWidth = o.lw;
    ctx.setLineDash([]);
    ctx.beginPath();
    sx.ticks.forEach(t => {
      const px = Math.round(sx.getPixelForValue(t.value));
      if (px > a.left + 2 && px < a.right - 2) { ctx.moveTo(px, a.bottom); ctx.lineTo(px, a.bottom - o.tick); }
    });
    sy.ticks.forEach(t => {
      const py = Math.round(sy.getPixelForValue(t.value));
      if (py > a.top + 2 && py < a.bottom - 2) { ctx.moveTo(a.left, py); ctx.lineTo(a.left + o.tick, py); }
    });
    ctx.stroke();
    ctx.strokeRect(a.left, a.top, a.right - a.left, a.bottom - a.top);
    ctx.restore();
  }
};

// legend drawn inside the plot
const keyPlugin = {
  id: 'key',
  afterDraw(chart, args, o) {
    if (!o.rows) return;
    const ctx = chart.ctx;
    legendLabels.forEach((label, i) => {
      const y = o.y + i * o.dy - o.top;
      const st = keyStyles[i];
      ctx.save();
      ctx.strokeStyle = st.color;
      ctx.lineWidth = 3;
      ctx.setLineDash(st.dash);
      ctx.beginPath();
      ctx.moveTo(o.x1, y);
      ctx.lineTo(o.x2, y);
      ctx.stroke();
      ctx.restore();
      ctx.save();
      ctx.fillStyle = '#000';
      ctx.textBaseline = 'middle';
      let x = o.tx;
      const parts = label.split('λ');
      parts.forEach((p, k) => {
        if (k > 0) {
          ctx.font = 'italic bold 25px ' + FONT;
          ctx.fillText('λ', x, y);
          x += ctx.measureText('λ').width;
        }
        ctx.font = 'bold 25px ' + FONT;
        ctx.fillText(p, x, y);
        x += ctx.measureText(p).width;
      });
      ctx.restore();
    });
  }
};

function addCanvas(left, top, w, h) {
  const c = document.createElement('canvas');
  c.width = w; c.height = h;
  c.style.left = left + 'px';
  c.style.top = top + 'px';
  page.appendChild(c);
  return c;
}

function addText(html, cx, cy, size, cls) {
  const d = document.createElement('div');
  d.className = 'txt' + (cls ? ' ' + cls : '');
  d.style.left = cx + 'px';
  d.style.top = cy + 'px';
  d.style.fontSize = size + 'px';
  d.innerHTML = html;
  page.appendChild(d);
}

function axis(min, max, ticks, fmt, size, pad, fit) {
  return {
    type: 'linear', min, max,
    grid: { display: false, drawTicks: false },
    border: { display: false },
    ticks: { color: '#000', font: { family: FONT, size, weight: 'bold' }, padding: pad,
             autoSkip: false, maxRotation: 0, callback: v => fmt(v) },
    afterBuildTicks: s => { s.ticks = ticks.map(v => ({ value: v })); },
    afterFit: fit
  };
}

function datasets(s, yellowStyle) {
  const order = [['teal', s.teal], ['blue', s.blue], ['black', s.black], ['yellow', s.yellow], ['green', s.green]];
  return order.map(([k, pts]) => {
    const st = k === 'yellow' ? yellowStyle : STY[k];
    return {
      data: pts.map(p => ({ x: p[0], y: p[1] })),
      borderColor: st.color, borderWidth: st.w, borderDash: st.dash,
      pointRadius: 0, tension: 0, fill: false
    };
  });
}

function mainChart(p) {
  const m = p.box, padT = 15, xh = 34;
  const top = m.T - padT;
  const cv = addCanvas(0, top, 735, (m.B - m.T) + padT + xh);
  new Chart(cv, {
    type: 'line',
    data: { datasets: datasets(p.series, p.yellowStyle) },
    options: {
      responsive: false, animation: false, events: [],
      layout: { autoPadding: false, padding: { top: padT, right: 735 - m.R, left: 0, bottom: 0 } },
      plugins: { legend: { display: false }, tooltip: { enabled: false },
                 frame: { tick: 10, lw: 2.2 },
                 key: { rows: true, x1: p.key.x1, x2: p.key.x2, tx: p.key.tx, y: p.key.y, dy: p.key.dy, top } },
      scales: {
        x: axis(0, p.xMax, xTicksMain, v => String(v), 25, 6, s => { s.height = xh; }),
        y: axis(p.yMin, p.yMax, p.yTicks, p.yFmt, 25, 6, s => { s.width = m.L; })
      }
    },
    plugins: [framePlugin, keyPlugin]
  });
}

function insetChart(p) {
  const b = p.inset, padL = 56, padT = 10, padR = 24, padB = 24;
  const cv = addCanvas(b.L - padL, b.T - padT, (b.R - b.L) + padL + padR, (b.B - b.T) + padT + padB);
  new Chart(cv, {
    type: 'line',
    data: { datasets: datasets(p.series, p.yellowStyle) },
    options: {
      responsive: false, animation: false, events: [],
      layout: { autoPadding: false, padding: { top: padT, right: padR, left: 0, bottom: 0 } },
      plugins: { legend: { display: false }, tooltip: { enabled: false }, frame: { tick: 5, lw: 2.2, fill: true } },
      scales: {
        x: axis(b.xMin, b.xMax, b.xTicks, v => String(v), 17, 2, s => { s.height = padB; }),
        y: axis(b.yMin, b.yMax, b.yTicks, b.yFmt, 17, 3, s => { s.width = padL; })
      }
    },
    plugins: [framePlugin]
  });
}

const panels = [
  { box: { L: 107, R: 711, T: 5, B: 309 }, xMax: 10180, yMin: -0.06, yMax: 0.056, yTicks: r1YTicks,
    yFmt: v => v === 0 ? '0' : minus(v.toFixed(2)),
    series: { yellow: r1Yellow, black: r1Black, green: r1Green, teal: r1Teal, blue: r1Blue }, yellowStyle: STY.yellow,
    inset: { L: 182, R: 381, T: 134, B: 276, xMin: 1300, xMax: 3350, xTicks: r1InsetXTicks,
             yMin: 0.0246, yMax: 0.054, yTicks: r1InsetYTicks, yFmt: v => v.toFixed(3) },
    key: { x1: 433, x2: 490, tx: 500, y: 175, dy: 25.5 },
    xTitleY: 353, cap: '（b）<i>R</i><sub>1</sub>辨识结果', capY: 387,
    yTitle: '<i>R</i><sub>1</sub>/Ω', yTitleX: 16, yTitleY: 157 },
  { box: { L: 108, R: 711, T: 425, B: 730 }, xMax: 10180, yMin: -0.01135, yMax: 0.010, yTicks: r2YTicks,
    yFmt: v => v === 0 ? '0' : minus(v.toFixed(3)),
    series: { yellow: r2Yellow, black: r2Black, green: r2Green, teal: r2Teal, blue: r2Blue }, yellowStyle: STY.yellow,
    inset: { L: 193, R: 383, T: 577, B: 695, xMin: 630, xMax: 1402, xTicks: r2InsetXTicks,
             yMin: 0.00118, yMax: 0.00236, yTicks: r2InsetYTicks, yFmt: v => (v * 1000).toFixed(1) },
    key: { x1: 446, x2: 505, tx: 513, y: 595, dy: 25.4 },
    xTitleY: 773, cap: '（c）<i>R</i><sub>2</sub>辨识结果', capY: 803,
    yTitle: '<i>R</i><sub>2</sub>/Ω', yTitleX: 16, yTitleY: 578,
    mult: { html: '×10<sup>−3</sup>', x: 215, y: 567 } },
  { box: { L: 111, R: 714, T: 861, B: 1167 }, xMax: 10210, yMin: -3100, yMax: 3800, yTicks: c1YTicks,
    yFmt: v => minus(v),
    series: { yellow: c1Yellow, black: c1Black, green: c1Green, teal: c1Teal, blue: c1Blue }, yellowStyle: STY.yellow,
    inset: { L: 217, R: 403, T: 1011, B: 1132, xMin: 1550, xMax: 2680, xTicks: c1InsetXTicks,
             yMin: 880, yMax: 1910, yTicks: c1InsetYTicks, yFmt: v => String(v) },
    key: { x1: 445, x2: 504, tx: 512, y: 1036, dy: 25.2 },
    xTitleY: 1210, cap: '（d）<i>C</i><sub>1</sub>辨识结果', capY: 1243,
    yTitle: '<i>C</i><sub>1</sub>/F', yTitleX: 16, yTitleY: 1013 },
  { box: { L: 111, R: 714, T: 1282, B: 1587 }, xMax: 10200, yMin: -2000, yMax: 1800, yTicks: c2YTicks,
    yFmt: v => minus(v),
    series: { yellow: c2Yellow, black: c2Black, green: c2Green, teal: c2Teal, blue: c2Blue }, yellowStyle: STY.olive,
    inset: { L: 175, R: 377, T: 1425, B: 1553, xMin: 1620, xMax: 2590, xTicks: c2InsetXTicks,
             yMin: 180, yMax: 645, yTicks: c2InsetYTicks, yFmt: v => String(v) },
    key: { x1: 443, x2: 502, tx: 510, y: 1453, dy: 25.4 },
    xTitleY: 1632, cap: '（e）<i>C</i><sub>2</sub>辨识结果', capY: 1665,
    yTitle: '<i>C</i><sub>2</sub>/F', yTitleX: 16, yTitleY: 1435 },
  { box: { L: 104, R: 715, T: 1704, B: 2009 }, xMax: 10220, yMin: -0.04, yMax: 0.0202, yTicks: ulYTicks,
    yFmt: v => v === 0 ? '0' : minus(v.toFixed(2)),
    series: { yellow: ulYellow, black: ulBlack, green: ulGreen, teal: ulTeal, blue: ulBlue }, yellowStyle: STY.olive,
    inset: { L: 142, R: 382, T: 1852, B: 1981, xMin: 158, xMax: 970, xTicks: ulInsetXTicks,
             yMin: -0.0023, yMax: 0.00088, yTicks: ulInsetYTicks, yFmt: v => minus(Math.round(v * 10000)) },
    key: { x1: 445, x2: 504, tx: 512, y: 1883, dy: 25.5 },
    xTitleY: 2060, cap: '（f）<i>U</i><sub>L</sub>预测误差', capY: 2092,
    yTitle: '端电压预测误差/V', yTitleX: 14, yTitleY: 1867,
    mult: { html: '×10<sup>−4</sup>', x: 164, y: 1843 } }
];

panels.forEach(p => {
  mainChart(p);
  insetChart(p);
  addText('时间/s', (p.box.L + p.box.R) / 2, p.xTitleY, 25);
  addText(p.cap, 415, p.capY, 24);
  addText(p.yTitle, p.yTitleX, p.yTitleY, 25, 'ytl');
  if (p.mult) addText(p.mult.html, p.mult.x, p.mult.y, 17);
});
</script>
</body>
</html>
